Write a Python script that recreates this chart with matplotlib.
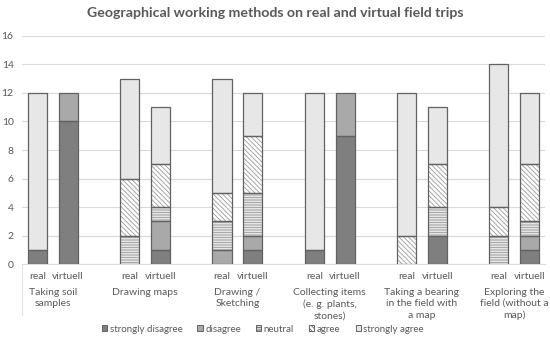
import matplotlib
matplotlib.use("Agg")
import matplotlib.pyplot as plt
from matplotlib.patches import Patch
import numpy as np

plt.rcParams['font.family'] = ['Lato', 'DejaVu Sans']

categories = ["Taking soil\nsamples", "Drawing maps", "Drawing /\nSketching",
              "Collecting items\n(e. g. plants,\nstones)",
              "Taking a bearing\nin the field with\na map",
              "Exploring the\nfield (without a\nmap)"]
modes = ["real", "virtuell"]
levels = ["strongly disagree", "disagree", "neutral", "agree", "strongly agree"]

# order: cat1 real, cat1 virtuell, cat2 real, ...
strongly_disagree = [1, 10, 0, 1, 0, 1, 1, 9, 0, 2, 0, 1]
disagree          = [0, 2, 0, 2, 1, 1, 0, 3, 0, 0, 0, 1]
neutral           = [0, 0, 2, 1, 2, 3, 0, 0, 0, 2, 2, 1]
agree             = [0, 0, 4, 3, 2, 4, 0, 0, 2, 3, 2, 4]
strongly_agree    = [11, 0, 7, 4, 8, 3, 11, 0, 10, 4, 10, 5]

series = [strongly_disagree, disagree, neutral, agree, strongly_agree]
fills = ['#7f7f7f', '#a9a9a9', '#ffffff', '#ffffff', '#e7e7e7']
hatches = [None, None, '-' * 10, '\\' * 7, None]
hatch_col = '#999999'
edge = '#626262'
txt = '#595959'

fig = plt.figure(figsize=(5.5, 3.39), dpi=100)
ax = fig.add_axes([0.04, 0.221, 0.951, 0.673])

n = len(categories)
xpos = []
for i in range(n):
    xpos += [3 * i, 3 * i + 1]
xpos = np.array(xpos, dtype=float)
width = 0.62

plt.rcParams['hatch.linewidth'] = 0.6
bottom = np.zeros(len(xpos))
for vals, fc, h in zip(series, fills, hatches):
    vals = np.array(vals, dtype=float)
    mask = vals > 0
    if h:
        ax.bar(xpos[mask], vals[mask], width, bottom=bottom[mask], color=fc,
               edgecolor=hatch_col, hatch=h, linewidth=0, zorder=3)
    else:
        ax.bar(xpos[mask], vals[mask], width, bottom=bottom[mask], color=fc,
               linewidth=0, zorder=3)
    ax.bar(xpos[mask], vals[mask], width, bottom=bottom[mask], fill=False,
           edgecolor=edge, linewidth=0.9, zorder=4)
    bottom += vals

ax.set_xlim(-0.5, 16.5)
ax.set_ylim(0, 16)
ax.set_yticks(range(0, 17, 2))
ax.tick_params(axis='y', length=0, labelsize=7.5, labelcolor=txt, pad=6)
ax.grid(axis='y', color='#d9d9d9', linewidth=0.8, zorder=0)
for s in ['top', 'right', 'left']:
    ax.spines[s].set_visible(False)
ax.spines['bottom'].set_color('#d9d9d9')
ax.spines['bottom'].set_linewidth(0.8)
ax.set_xticks(xpos)
ax.set_xticklabels(modes * n)
ax.tick_params(axis='x', length=0, labelsize=7.5, labelcolor=txt, pad=6)

for i, c in enumerate(categories):
    ax.text(3 * i + 0.5, -1.65, c, ha='center', va='top', multialignment='center',
            fontsize=7.5, color=txt, linespacing=1.35, transform=ax.transData,
            clip_on=False)

# faint left separator line
ax.plot([-0.5, -0.5], [0, -3.6], color='#e6e6e6', lw=0.8, clip_on=False)

fig.text(0.5, 0.962, "Geographical working methods on real and virtual field trips",
         ha='center', va='center', fontsize=10.2, fontweight='bold', color=txt)

handles = []
for fc, h in zip(fills, hatches):
    handles.append(Patch(facecolor=fc, edgecolor=edge, hatch=h, linewidth=0.7))
leg = fig.legend(handles, levels, loc='center', bbox_to_anchor=(0.478, 1 - 329 / 339),
                 ncol=5, frameon=False, fontsize=7, handlelength=0.55, handleheight=0.55,
                 handletextpad=0.25, columnspacing=1.55, labelcolor=txt)

fig.savefig("out.png", dpi=100)
